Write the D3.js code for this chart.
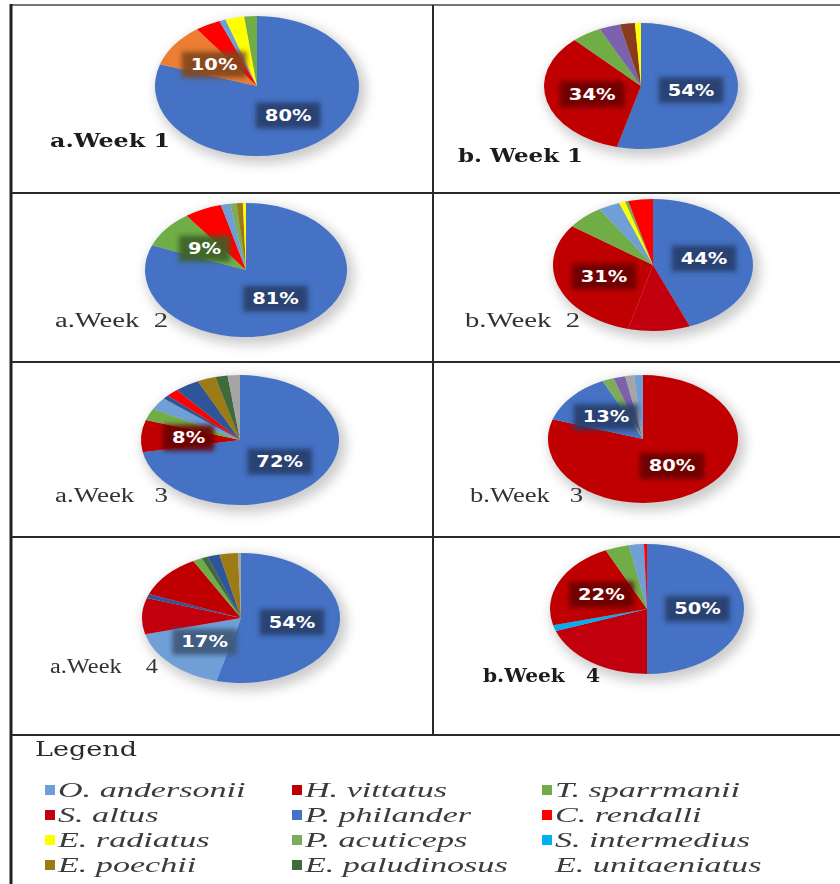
<!DOCTYPE html>
<html>
<head>
<meta charset="utf-8">
<script src="https://cdn.jsdelivr.net/npm/d3@7"></script>
<style>
  body { margin: 0; background: #fff; }
  svg { display: block; }
</style>
</head>
<body>
<div id="chart"></div>
<script>
// ---- data ----
var species = ["O. andersonii", "H. vittatus", "T. sparrmanii",
               "S. altus", "P. philander", "C. rendalli",
               "E. radiatus", "P. acuticeps", "S. intermedius",
               "E. poechii", "E. paludinosus", "E. unitaeniatus"];
var speciesColors = ["#6f9fd8", "#c00000", "#70ad47",
                     "#c2000f", "#4472c4", "#ff0000",
                     "#ffff00", "#7dab5a", "#00b0f0",
                     "#9c7a12", "#3f6a3a", "#ffffff"];
// slices that have no legend entry
var otherNames = ["other orange", "other purple", "other brown", "other navy", "other gray"];
var otherColors = ["#ed7d31", "#7b62ad", "#8a3b1a", "#2f5597", "#a5a5a5"];

var a1Species = ["P. philander", "other orange", "C. rendalli", "O. andersonii", "E. radiatus", "T. sparrmanii"];
var a1Values = [80, 10, 4, 1, 3, 2];
var a1Labels = [80, 10];

var b1Species = ["P. philander", "H. vittatus", "T. sparrmanii", "other purple", "other brown", "E. radiatus"];
var b1Values = [54, 34, 5, 3.5, 2.5, 1];
var b1Labels = [54, 34];

var a2Species = ["P. philander", "T. sparrmanii", "C. rendalli", "O. andersonii", "P. acuticeps", "E. poechii", "E. radiatus"];
var a2Values = [81, 9, 6, 1.5, 1, 1, 0.5];
var a2Labels = [81, 9];

var b2Species = ["P. philander", "S. altus", "H. vittatus", "T. sparrmanii", "O. andersonii", "E. radiatus", "P. acuticeps", "C. rendalli"];
var b2Values = [44, 10, 31, 6, 3.5, 1, 0.5, 4];
var b2Labels = [44, 31];

var a3Species = ["P. philander", "H. vittatus", "T. sparrmanii", "O. andersonii", "other navy", "C. rendalli", "other navy", "E. poechii", "E. paludinosus", "other gray"];
var a3Values = [72, 8, 3, 3, 1, 2, 4, 3, 2, 2];
var a3Labels = [72, 8];

var b3Species = ["H. vittatus", "P. philander", "P. acuticeps", "other purple", "other gray", "O. andersonii"];
var b3Values = [80, 13, 2, 2, 1.5, 1.5];
var b3Labels = [80, 13];

var a4Species = ["P. philander", "O. andersonii", "S. altus", "other navy", "H. vittatus", "T. sparrmanii", "E. paludinosus", "other navy", "E. poechii", "other gray"];
var a4Values = [54, 17, 9, 1, 11, 1.5, 1, 2, 3, 0.5];
var a4Labels = [54, 17];

var b4Species = ["P. philander", "S. altus", "S. intermedius", "H. vittatus", "T. sparrmanii", "O. andersonii", "C. rendalli"];
var b4Values = [50, 19.5, 1.5, 22, 4, 2.5, 0.5];
var b4Labels = [50, 22];

var captions = ["a.Week 1", "b. Week 1", "a.Week  2", "b.Week  2", "a.Week   3", "b.Week   3", "a.Week    4", "b.Week   4"];

// ---- layout ----
var width = 840, height = 884;
var panels = [
  { sp: a1Species, v: a1Values, lab: a1Labels, cx: 257, cy: 86,  rx: 102, ry: 70, capX: 50,  capY: 147, capW: 120, bold: true },
  { sp: b1Species, v: b1Values, lab: b1Labels, cx: 641, cy: 86,  rx: 97,  ry: 63, capX: 458, capY: 162, capW: 125, bold: true },
  { sp: a2Species, v: a2Values, lab: a2Labels, cx: 246, cy: 270, rx: 101, ry: 67, capX: 55,  capY: 327, capW: 113, bold: false },
  { sp: b2Species, v: b2Values, lab: b2Labels, cx: 653, cy: 265, rx: 100, ry: 66, capX: 465, capY: 327, capW: 115, bold: false },
  { sp: a3Species, v: a3Values, lab: a3Labels, cx: 240, cy: 440, rx: 99,  ry: 65, capX: 55,  capY: 502, capW: 113, bold: false },
  { sp: b3Species, v: b3Values, lab: b3Labels, cx: 643, cy: 439, rx: 95,  ry: 64, capX: 470, capY: 502, capW: 113, bold: false },
  { sp: a4Species, v: a4Values, lab: a4Labels, cx: 241, cy: 618, rx: 99,  ry: 65, capX: 50,  capY: 673, capW: 108, bold: false },
  { sp: b4Species, v: b4Values, lab: b4Labels, cx: 647, cy: 609, rx: 97,  ry: 65, capX: 483, capY: 682, capW: 117, bold: true }
];

var colorScale = d3.scaleOrdinal()
    .domain(species.concat(otherNames))
    .range(speciesColors.concat(otherColors));

var svg = d3.select("#chart").append("svg")
    .attr("width", width)
    .attr("height", height);

var defs = svg.append("defs");
defs.append("filter").attr("id", "shadow")
    .attr("x", "-30%").attr("y", "-30%").attr("width", "160%").attr("height", "160%")
  .append("feGaussianBlur").attr("stdDeviation", 6);
defs.append("filter").attr("id", "soft")
    .attr("x", "-10%").attr("y", "-10%").attr("width", "120%").attr("height", "120%")
  .append("feGaussianBlur").attr("stdDeviation", 0.7);
defs.append("filter").attr("id", "boxblur")
    .attr("x", "-40%").attr("y", "-60%").attr("width", "180%").attr("height", "220%")
  .append("feGaussianBlur").attr("stdDeviation", 2.5);
defs.append("filter").attr("id", "textsoft")
  .append("feGaussianBlur").attr("stdDeviation", 0.35);

// ---- table grid ----
var grid = svg.append("g").attr("class", "grid");
var colX = [11, 433, 900];
var rowY = [5, 193, 362, 537, 735, 900];

grid.append("line").attr("x1", 10).attr("x2", width).attr("y1", rowY[0]).attr("y2", rowY[0])
    .attr("stroke", "#777").attr("stroke-width", 2);
grid.append("line").attr("x1", colX[0]).attr("x2", colX[0]).attr("y1", 4).attr("y2", height)
    .attr("stroke", "#222").attr("stroke-width", 3);
grid.append("line").attr("x1", colX[1]).attr("x2", colX[1]).attr("y1", rowY[0]).attr("y2", rowY[4])
    .attr("stroke", "#2a2a2a").attr("stroke-width", 2);
grid.selectAll("line.row")
    .data(rowY.slice(1, 5))
    .enter().append("line")
    .attr("class", "row")
    .attr("x1", colX[0]).attr("x2", width)
    .attr("y1", function(d) { return d; })
    .attr("y2", function(d) { return d; })
    .attr("stroke", "#2a2a2a").attr("stroke-width", 2);

// ---- pies ----
var R = 100;
var pie = d3.pie().sort(null).value(function(d) { return d.value; });
var arc = d3.arc().innerRadius(0).outerRadius(R);
var labelArc = d3.arc().innerRadius(R * 0.52).outerRadius(R * 0.52);

panels.forEach(function(p, k) {
    var rows = p.sp.map(function(s, i) { return { species: s, value: p.v[i] }; });
    var arcs = pie(rows);
    var sx = p.rx / R, sy = p.ry / R;

    // soft shadow behind the pie
    svg.append("ellipse")
        .attr("cx", p.cx + 4).attr("cy", p.cy + 5)
        .attr("rx", p.rx + 3).attr("ry", p.ry + 3)
        .attr("fill", "#9a9a9a").attr("opacity", 0.5)
        .attr("filter", "url(#shadow)");

    var g = svg.append("g")
        .attr("transform", "translate(" + p.cx + "," + p.cy + ") scale(" + sx + "," + sy + ")")
        .attr("filter", "url(#soft)");

    g.selectAll("path.slice")
        .data(arcs)
        .enter().append("path")
        .attr("class", "slice")
        .attr("d", arc)
        .attr("fill", function(d) { return colorScale(d.data.species); });

    // data labels
    var labelled = arcs.filter(function(d) { return p.lab.indexOf(d.data.value) >= 0; });
    labelled.forEach(function(d) {
        var c = labelArc.centroid(d);
        var lx = p.cx + c[0] * sx, ly = p.cy + c[1] * sy;
        var lg = svg.append("g").attr("transform", "translate(" + lx + "," + ly + ")");
        var box = lg.append("rect")
            .attr("fill", d3.color(colorScale(d.data.species)).darker(1.7))
            .attr("opacity", 0.9)
            .attr("filter", "url(#boxblur)");
        var t = lg.append("text")
            .attr("text-anchor", "middle")
            .attr("dy", "0.36em")
            .attr("transform", "scale(1.3,1)")
            .attr("font-family", "DejaVu Sans")
            .attr("font-weight", "bold")
            .attr("font-size", 15)
            .attr("fill", "#fff")
            .text(d.data.value + "%");
        var w = t.node().getComputedTextLength() * 1.3;
        box.attr("x", -w / 2 - 9).attr("y", -13).attr("width", w + 18).attr("height", 26);
    });

    // caption
    svg.append("text")
        .attr("x", p.capX).attr("y", p.capY)
        .attr("font-family", p.bold ? "DejaVu Serif" : "Liberation Serif")
        .attr("font-weight", p.bold ? "bold" : "normal")
        .attr("font-size", p.bold ? 19 : 20)
        .attr("fill", p.bold ? "#1a1a1a" : "#333")
        .attr("textLength", p.capW)
        .attr("lengthAdjust", "spacingAndGlyphs")
        .attr("filter", "url(#textsoft)")
        .style("white-space", "pre")
        .text(captions[k]);
});

// ---- legend ----
var legend = svg.append("g").attr("class", "legend");
legend.append("text")
    .attr("x", 35).attr("y", 756)
    .attr("font-family", "DejaVu Serif")
    .attr("font-size", 20)
    .attr("fill", "#2a2a2a")
    .attr("textLength", 102)
    .attr("lengthAdjust", "spacingAndGlyphs")
    .attr("filter", "url(#textsoft)")
    .text("Legend");

var legendCols = [45, 292, 542];
var legendRow0 = 797, legendRowStep = 25;

var items = legend.selectAll("g.item")
    .data(species)
    .enter().append("g")
    .attr("class", "item")
    .attr("transform", function(d, i) {
        return "translate(" + legendCols[i % 3] + "," + (legendRow0 + Math.floor(i / 3) * legendRowStep) + ")";
    });

items.append("rect")
    .attr("x", 0).attr("y", -12)
    .attr("width", 10).attr("height", 10)
    .attr("fill", function(d) { return colorScale(d); });

items.append("text")
    .attr("transform", "translate(13,0) scale(1.55,1)")
    .attr("font-family", "Liberation Serif")
    .attr("font-style", "italic")
    .attr("font-size", 22)
    .attr("fill", "#3a3a3a")
    .attr("filter", "url(#textsoft)")
    .text(function(d) { return d; });
</script>
</body>
</html>
